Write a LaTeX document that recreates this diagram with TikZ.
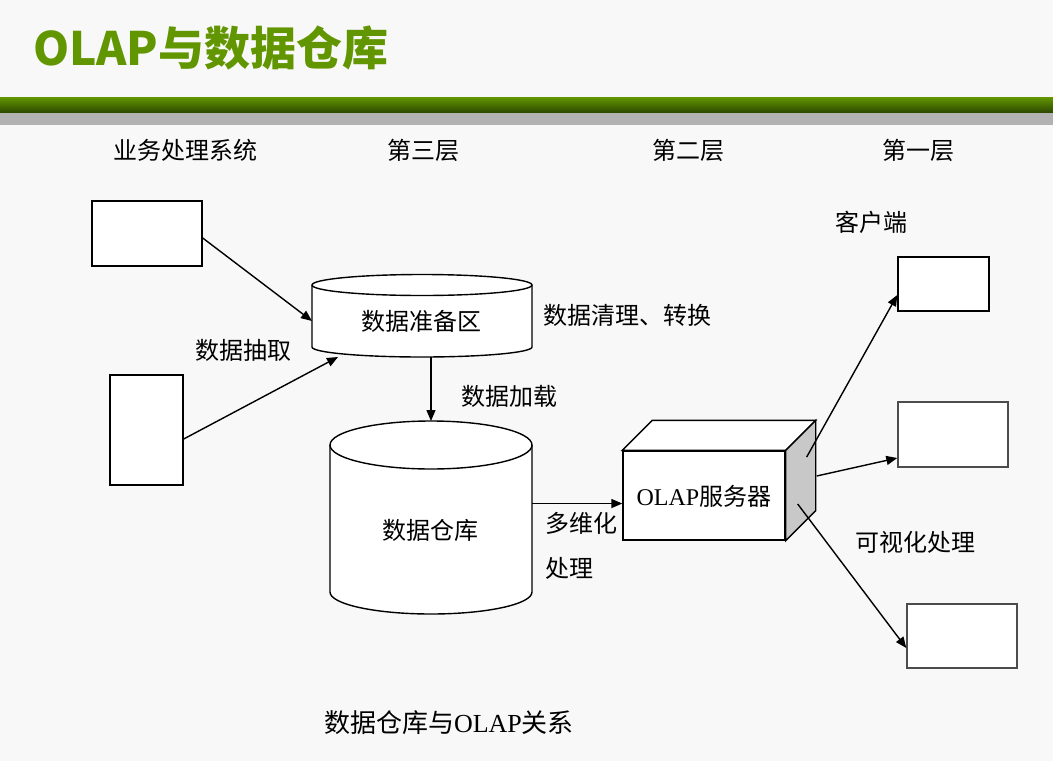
\documentclass[tikz,border=0pt]{standalone}
\usepackage{fontspec}
\setmainfont{Liberation Serif}
\newfontfamily\cjk{Noto Sans CJK SC}
\usepackage{tikz}
\usetikzlibrary{arrows.meta,positioning,calc}
\definecolor{titlegreen}{RGB}{98,150,0}
\definecolor{bardark}{RGB}{42,70,0}
\definecolor{pagebg}{RGB}{248,248,248}
\definecolor{sidegray}{RGB}{200,200,200}
\tikzset{
    lbl/.style={font=\cjk\fontsize{24}{28}\selectfont, inner sep=0pt},
    sysbox/.style={draw, fill=white, line width=1.4pt},
    store/.style={inner sep=0pt, outer sep=0pt},
    arr/.style={-{Triangle[length=11pt,width=9pt]}, line width=1.4pt}
}

\begin{document}
\begin{tikzpicture}[x=1pt, y=-1pt]
    % Page and header bar
    \fill[pagebg] (0,0) rectangle (1053,761);
    \useasboundingbox (0,0) rectangle (1053,761);
    \shade[top color=titlegreen, bottom color=bardark] (0,97) rectangle (1053,113);
    \fill[black!30] (0,113) rectangle (1053,125);
    \node[anchor=west, inner sep=0pt, text=titlegreen, font=\cjk\bfseries\fontsize{46}{52}\selectfont] (title) at (33,48) {OLAP与数据仓库};

    % Column headings
    \foreach \name/\x/\txt in {h1/185/业务处理系统, h2/423/第三层, h3/688/第二层, h4/918/第一层}
        \node[lbl] (\name) at (\x,150) {\txt};

    % Source systems
    \node[sysbox, minimum width=110, minimum height=65] (src1) at (147,233.5) {};
    \node[sysbox, minimum width=73, minimum height=110] (src2) at (146.5,430) {};

    % Data preparation area
    \node[store, minimum width=220, minimum height=72] (prep) at (422,321) {};
    \draw[line width=1.4pt, fill=white] (prep.north west) -- ([yshift=10pt]prep.south west)
        arc[start angle=180, end angle=0, x radius=110, y radius=10] -- (prep.north east)
        arc[start angle=0, end angle=-180, x radius=110, y radius=10.5] -- cycle;
    \draw[line width=1.4pt] (prep.north west) arc[start angle=180, end angle=0, x radius=110, y radius=10.5];
    \node[lbl] (preplbl) at (421,321) {数据准备区};

    % Data warehouse
    \node[store, minimum width=202, minimum height=193] (dw) at (431,517.5) {};
    \draw[line width=1.4pt, fill=white] ([yshift=-24pt]dw.north west) -- ([yshift=22pt]dw.south west)
        arc[start angle=180, end angle=0, x radius=101, y radius=22] -- ([yshift=-24pt]dw.north east)
        arc[start angle=0, end angle=-180, x radius=101, y radius=24] -- cycle;
    \draw[line width=1.4pt] ([yshift=-24pt]dw.north west) arc[start angle=180, end angle=0, x radius=101, y radius=24];
    \node[lbl] (dwlbl) at (430,530) {数据仓库};

    % OLAP server
    \node[sysbox, minimum width=162, minimum height=89] (olap) at (704,495.5) {};
    \draw[line width=1.4pt, fill=white] (olap.north west) -- ++(30,-30)
        -- ($(olap.north east)+(30,-30)$) -- (olap.north east) -- cycle;
    \draw[line width=1.4pt, fill=sidegray] (olap.north east) -- ++(30,-30)
        -- ($(olap.south east)+(30,-30)$) -- (olap.south east) -- cycle;
    \node[lbl] (olaplbl) at (704,496) {{\rmfamily OLAP}服务器};

    % Clients
    \node[sysbox, minimum width=91, minimum height=54] (cl1) at (943.5,284) {};
    \node[sysbox, draw=black!70, minimum width=110, minimum height=65] (cl2) at (953,434.5) {};
    \node[sysbox, draw=black!70, minimum width=110, minimum height=64] (cl3) at (962,636) {};

    % Arrows
    \draw[arr] ($(src1.east)+(0,4.5)$) -- (prep.west);
    \draw[arr] ($(src2.east)+(0,9)$) -- ($(prep.south west)+(26,0)$);
    \draw[arr] (prep.south -| dw.north) -- (dw.north);
    \draw[arr] ([yshift=14pt]dw.east) -- ([yshift=14pt]dw.east -| olap.west);
    \draw[arr] ($(olap.east)+(21,-38.5)$) -- ($(cl1.west)+(0,11)$);
    \draw[arr] ($(olap.east)+(31,-19.5)$) -- ($(cl2.west)+(0,23.5)$);
    \draw[arr] ($(olap.east)+(12,8.5)$) -- ($(cl3.west)+(0,12)$);

    % Labels
    \node[lbl] (cltxt) at (871,222) {客户端};
    \node[lbl, anchor=west] (clean) at (543,315) {数据清理、转换};
    \node[lbl] (extract) at (243,350) {数据抽取};
    \node[lbl, anchor=west] (load) at (461,396) {数据加载};
    \node[lbl, anchor=west] (mdim) at (545,523) {多维化};
    \node[lbl, anchor=west] (mdim2) at (545,568) {处理};
    \node[lbl] (vis) at (915,542) {可视化处理};
    \node[lbl, font=\cjk\fontsize{26}{30}\selectfont] (caption) at (449,723) {数据仓库与{\rmfamily OLAP}关系};
\end{tikzpicture}
\end{document}
